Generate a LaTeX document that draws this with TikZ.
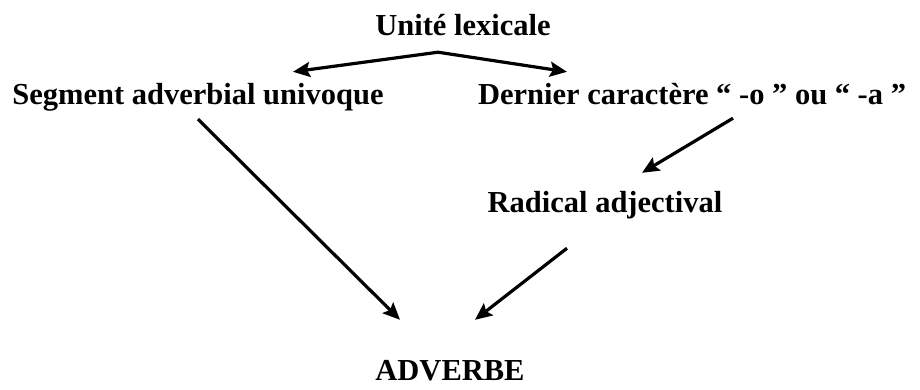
\documentclass[tikz,border=0pt]{standalone}
\usepackage{fontspec}
\setmainfont{Liberation Serif}
\usetikzlibrary{arrows.meta}
\tikzstyle{label} = [inner sep=0pt, text height=20pt, text depth=6pt, font=\fontsize{30.5}{36}\selectfont\bfseries]
\tikzstyle{arrow} = [line width=3.2pt, -{Stealth[length=17pt, width=15pt, inset=3pt]}]

\begin{document}
\begin{tikzpicture}[node distance=69pt]
\useasboundingbox (0pt,0pt) rectangle (920pt,-389pt);
\node (lex) [label] at (463pt,-28pt) {Unité lexicale};
\node (seg) [label, below of=lex, xshift=-265pt] {Segment adverbial univoque};
\node (der) [label, below of=lex, xshift=229pt] {Dernier caractère “ -o ” ou “ -a ”};
\node (rad) [label, below of=der, xshift=-87pt, yshift=-39pt] {Radical adjectival};
\node (adv) [label, below of=rad, xshift=-155pt, yshift=-99pt] {ADVERBE};

% fork under the top label
\coordinate (fork) at ([xshift=-25pt, yshift=-11pt]lex.south);
\draw [arrow] (fork) -- ([xshift=95pt, yshift=12pt]seg.north);
\draw [arrow] (fork) -- ([xshift=-125pt, yshift=12pt]der.north);

\draw [arrow] ([yshift=-9pt]seg.south) -- ([xshift=-50pt, yshift=40pt]adv.north);
\draw [arrow] ([xshift=41pt, yshift=-8pt]der.south) -- ([xshift=37pt, yshift=19pt]rad.north);
\draw [arrow] ([xshift=-38pt, yshift=-30pt]rad.south) -- ([xshift=25pt, yshift=40pt]adv.north);

\end{tikzpicture}
\end{document}
